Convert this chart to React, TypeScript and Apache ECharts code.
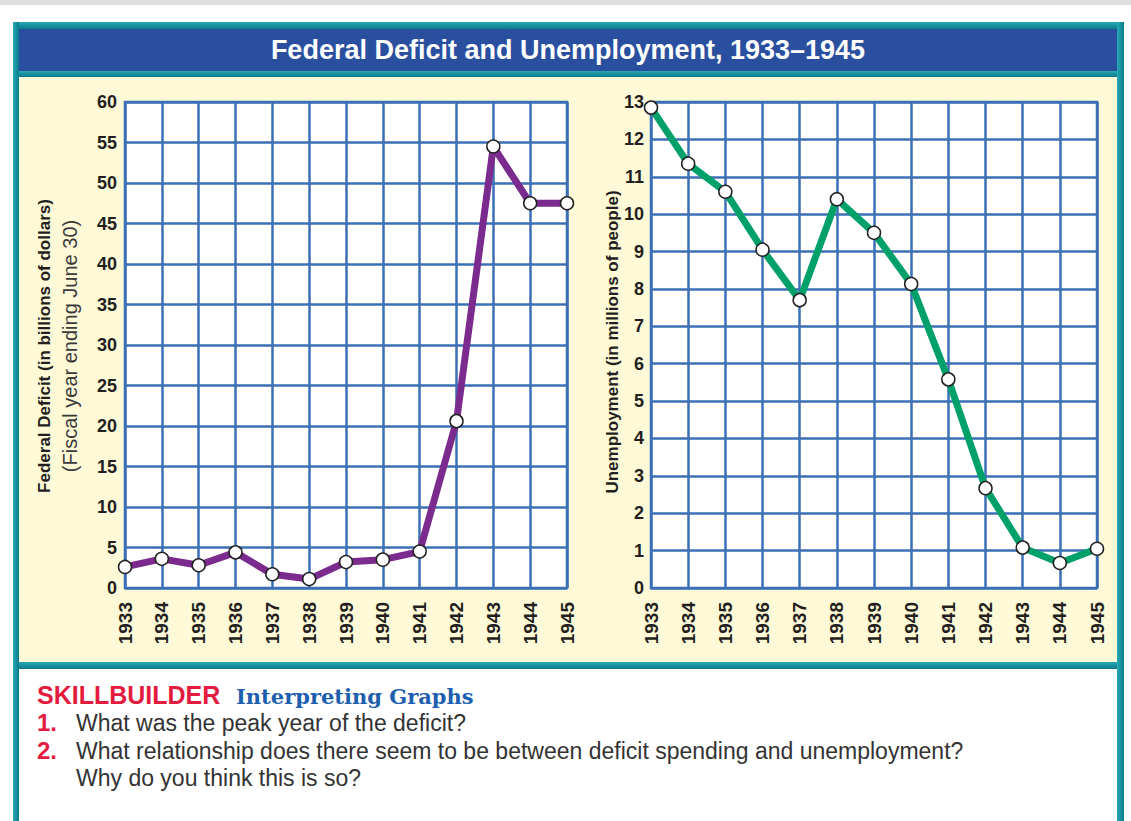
import React, { useEffect, useRef } from "react";
import * as echarts from "echarts";

const years = ["1933", "1934", "1935", "1936", "1937", "1938", "1939", "1940", "1941", "1942", "1943", "1944", "1945"];
const deficit = [2.6, 3.6, 2.8, 4.4, 1.7, 1.1, 3.2, 3.5, 4.5, 20.6, 54.5, 47.5, 47.5];
const unemployment = [12.85, 11.35, 10.6, 9.05, 7.7, 10.4, 9.5, 8.13, 5.58, 2.67, 1.08, 0.67, 1.05];

const titleText = "Federal Deficit and Unemployment, 1933\u20131945";
const leftAxisName = "Federal Deficit (in billions of dollars)";
const leftAxisSub = "(Fiscal year ending June 30)";
const rightAxisName = "Unemployment (in millions of people)";
const q1 = "What was the peak year of the deficit?";
const q2a = "What relationship does there seem to be between deficit spending and unemployment?";
const q2b = "Why do you think this is so?";

const SANS = "'Liberation Sans', Arial, Helvetica, sans-serif";
const GRID = "#3b6fb6";
const TEAL = new echarts.graphic.LinearGradient(0, 0, 0, 1, [
  { offset: 0, color: "#27aab6" },
  { offset: 1, color: "#0b7a88" },
]);
const TEALV = new echarts.graphic.LinearGradient(0, 0, 1, 0, [
  { offset: 0, color: "#27aab6" },
  { offset: 1, color: "#0b7a88" },
]);

function txt(text: string, x: number, y: number, o: any = {}) {
  return {
    type: "text",
    x,
    y,
    rotation: o.rotation || 0,
    z: 100,
    style: {
      text,
      fill: o.fill || "#222",
      fontSize: o.fontSize || 16,
      fontWeight: o.fontWeight || "normal",
      fontFamily: o.fontFamily || SANS,
      textAlign: o.align || "left",
      align: o.align || "left",
      textVerticalAlign: "middle",
      verticalAlign: "middle",
    },
  };
}

export default function App() {
  const ref = useRef<HTMLDivElement>(null);
  useEffect(() => {
    if (!ref.current) return;
    const chart = echarts.init(ref.current, null, { renderer: "svg" });
    const axisLabelX = {
      rotate: 90,
      fontSize: 19,
      fontWeight: "bold",
      color: "#231f20",
      fontFamily: SANS,
      margin: 14,
    };
    const axisLabelY = {
      fontSize: 18,
      fontWeight: "bold",
      color: "#231f20",
      fontFamily: SANS,
      margin: 8,
    };
    const splitLine = { show: true, lineStyle: { color: GRID, width: 2.5 } };
    const option: any = {
      animation: false,
      backgroundColor: "#ffffff",
      grid: [
        { left: 125, top: 102, width: 442, height: 486, show: true, backgroundColor: "#ffffff", borderColor: GRID, borderWidth: 2.5 },
        { left: 651, top: 102, width: 446, height: 486, show: true, backgroundColor: "#ffffff", borderColor: GRID, borderWidth: 2.5 },
      ],
      xAxis: [0, 1].map((i) => ({
        type: "category",
        gridIndex: i,
        data: years,
        boundaryGap: false,
        axisLine: { show: false },
        axisTick: { show: false },
        axisLabel: axisLabelX,
        splitLine,
      })),
      yAxis: [
        { type: "value", gridIndex: 0, min: 0, max: 60, interval: 5, axisLine: { show: false }, axisTick: { show: false }, axisLabel: axisLabelY, splitLine },
        { type: "value", gridIndex: 1, min: 0, max: 13, interval: 1, axisLine: { show: false }, axisTick: { show: false }, axisLabel: { ...axisLabelY, margin: 7 }, splitLine },
      ],
      series: [
        {
          type: "line",
          xAxisIndex: 0,
          yAxisIndex: 0,
          data: deficit,
          lineStyle: { color: "#7b2a8d", width: 7, join: "round" },
          symbol: "circle",
          symbolSize: 13,
          itemStyle: { color: "#ffffff", borderColor: "#222", borderWidth: 1.5 },
          z: 5,
        },
        {
          type: "line",
          xAxisIndex: 1,
          yAxisIndex: 1,
          data: unemployment,
          lineStyle: { color: "#00a06b", width: 7, join: "round" },
          symbol: "circle",
          symbolSize: 13,
          itemStyle: { color: "#ffffff", borderColor: "#222", borderWidth: 1.5 },
          z: 5,
        },
      ],
      graphic: [
        { type: "rect", z: -10, shape: { x: 0, y: 0, width: 1131, height: 5 }, style: { fill: "#dedede" } },
        { type: "rect", z: -10, shape: { x: 19, y: 77, width: 1098, height: 585 }, style: { fill: "#fef9d6" } },
        { type: "rect", z: -9, shape: { x: 19, y: 29, width: 1098, height: 42 }, style: { fill: "#2a4f9f" } },
        { type: "rect", z: -8, shape: { x: 13, y: 22, width: 1111, height: 7 }, style: { fill: TEAL } },
        { type: "rect", z: -8, shape: { x: 19, y: 71, width: 1098, height: 6 }, style: { fill: TEAL } },
        { type: "rect", z: -8, shape: { x: 19, y: 662, width: 1098, height: 7 }, style: { fill: TEAL } },
        { type: "rect", z: -8, shape: { x: 13, y: 22, width: 6, height: 799 }, style: { fill: TEALV } },
        { type: "rect", z: -8, shape: { x: 1117, y: 22, width: 7, height: 799 }, style: { fill: TEALV } },
        txt(titleText, 568, 50, { fill: "#ffffff", fontSize: 27, fontWeight: "bold", align: "center" }),
        txt(leftAxisName, 44, 346, { rotation: Math.PI / 2, fontSize: 17, fontWeight: "bold", align: "center", fill: "#231f20" }),
        txt(leftAxisSub, 70, 346, { rotation: Math.PI / 2, fontSize: 20, align: "center", fill: "#3a3a3a" }),
        txt(rightAxisName, 612, 342, { rotation: Math.PI / 2, fontSize: 17, fontWeight: "bold", align: "center", fill: "#231f20" }),
        txt("SKILLBUILDER", 37, 695, { fill: "#e31b3f", fontSize: 25, fontWeight: "bold" }),
        txt("Interpreting Graphs", 236, 696, { fill: "#1d5fae", fontSize: 21, fontWeight: "bold", fontFamily: "'DejaVu Serif', serif" }),
        txt("1.", 37, 722, { fill: "#e31b3f", fontSize: 24, fontWeight: "bold" }),
        txt(q1, 76, 723, { fill: "#333333", fontSize: 23 }),
        txt("2.", 37, 750, { fill: "#e31b3f", fontSize: 24, fontWeight: "bold" }),
        txt(q2a, 76, 751, { fill: "#333333", fontSize: 23 }),
        txt(q2b, 76, 778, { fill: "#333333", fontSize: 23 }),
      ],
    };
    chart.setOption(option);
    return () => chart.dispose();
  }, []);
  return <div ref={ref} style={{ position: "fixed", left: 0, top: 0, width: 1131, height: 821 }} />;
}
